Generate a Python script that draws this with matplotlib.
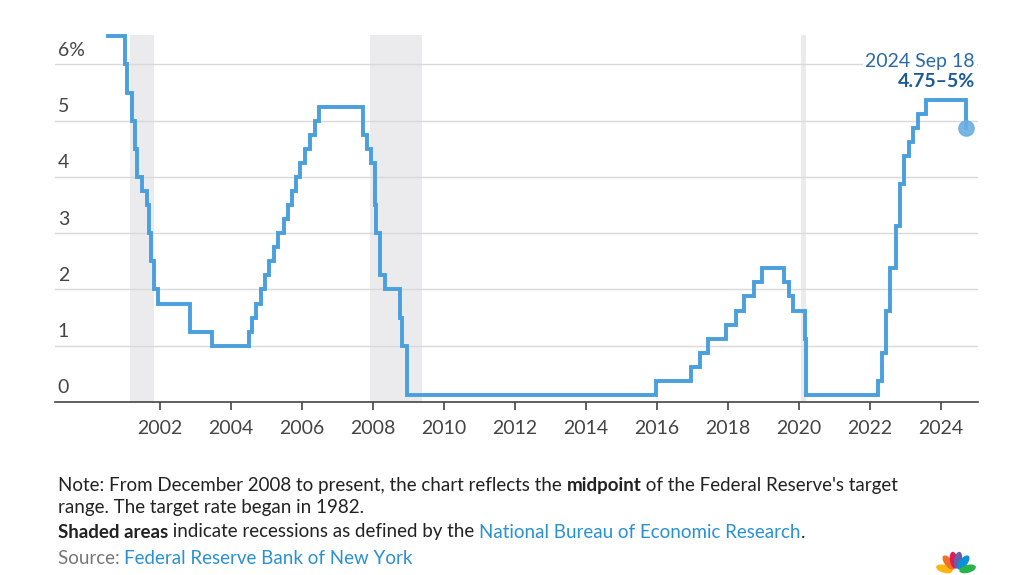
import matplotlib.pyplot as plt
import numpy as np
from matplotlib.patches import Ellipse

plt.rcParams['font.family'] = ['Lato', 'DejaVu Sans']

# fed funds target (midpoint after Dec 2008), decimal years
dates = [2000.55, 2001.01, 2001.08, 2001.21, 2001.30, 2001.37, 2001.49, 2001.64,
         2001.71, 2001.75, 2001.85, 2001.94, 2002.85, 2003.48, 2004.50, 2004.61,
         2004.72, 2004.86, 2004.95, 2005.09, 2005.22, 2005.34, 2005.49, 2005.61,
         2005.72, 2005.83, 2005.95, 2006.08, 2006.24, 2006.36, 2006.49, 2007.71,
         2007.83, 2007.94, 2008.06, 2008.08, 2008.21, 2008.33, 2008.77, 2008.82,
         2008.96, 2015.96, 2016.95, 2017.20, 2017.45, 2017.95, 2018.22, 2018.45,
         2018.73, 2018.97, 2019.58, 2019.71, 2019.83, 2020.17, 2020.20, 2022.21,
         2022.34, 2022.46, 2022.57, 2022.72, 2022.84, 2022.95, 2023.09, 2023.22,
         2023.34, 2023.57, 2024.71]
rates = [6.5, 6.0, 5.5, 5.0, 4.5, 4.0, 3.75, 3.5, 3.0, 2.5, 2.0, 1.75, 1.25, 1.0,
         1.25, 1.5, 1.75, 2.0, 2.25, 2.5, 2.75, 3.0, 3.25, 3.5, 3.75, 4.0, 4.25,
         4.5, 4.75, 5.0, 5.25, 4.75, 4.5, 4.25, 3.5, 3.0, 2.25, 2.0, 1.5, 1.0,
         0.125, 0.375, 0.625, 0.875, 1.125, 1.375, 1.625, 1.875, 2.125, 2.375,
         2.125, 1.875, 1.625, 1.125, 0.125, 0.375, 0.875, 1.625, 2.375, 3.125,
         3.875, 4.375, 4.625, 4.875, 5.125, 5.375, 4.875]
recessions = [(2001.17, 2001.84), (2007.92, 2009.38), (2020.05, 2020.20)]
year_ticks = list(range(2002, 2025, 2))
y_ticks = [0, 1, 2, 3, 4, 5, 6]

fig = plt.figure(figsize=(10.24, 5.75), dpi=100)
ax = fig.add_axes([0.0537, 0.3009, 0.9014, 0.638])

for a, b in recessions:
    ax.axvspan(a, b, color='#ebebee', lw=0, zorder=0)

for v in y_ticks[1:]:
    ax.axhline(v, color='#d9d9d9', lw=1, zorder=1)
for v in y_ticks:
    lab = f'{v}%' if v == 6 else str(v)
    ax.text(0.003, v + 0.1, lab, transform=ax.get_yaxis_transform(),
            fontsize=14, color='#444444', va='bottom', ha='left')

ax.step(dates, rates, where='post', color='#4a9fdd', lw=2.8, zorder=3,
        solid_joinstyle='miter', clip_on=False)
ax.plot(dates[-1], rates[-1], 'o', ms=11, color='#6aaee3', alpha=0.9,
        zorder=4, clip_on=False)

ax.text(2024.95, 6.06, '2024 Sep 18', fontsize=14, color='#2b6aa6',
        ha='right', va='center', zorder=5,
        bbox=dict(facecolor='white', edgecolor='none', pad=1.5))
ax.text(2024.95, 5.70, '4.75–5%', fontsize=14, color='#1a5a96',
        fontweight='bold', ha='right', va='center', zorder=5)

ax.set_xlim(1999.05, 2025.04)
ax.set_ylim(0, 6.52)
ax.set_xticks(year_ticks)
ax.set_xticklabels([str(y) for y in year_ticks], fontsize=14, color='#444444')
ax.set_yticks([])
ax.tick_params(axis='x', length=6, width=1.2, color='#444444', pad=7)
for s in ['top', 'right', 'left']:
    ax.spines[s].set_visible(False)
ax.spines['bottom'].set_color('#444444')
ax.spines['bottom'].set_linewidth(1.2)
ax.spines['bottom'].set_zorder(5)

# footnotes built from pieces
renderer = fig.canvas.get_renderer()
W = fig.get_figwidth() * fig.dpi


def chain(x, y, parts):
    for s, kw in parts:
        t = fig.text(x, y, s, fontsize=13.5, va='center', **kw)
        x = t.get_window_extent(renderer).x1 / W


dark = '#222222'
blue = '#2a90d2'
chain(0.0566, 1 - 485 / 575, [
    ('Note: From December 2008 to present, the chart reflects the ', dict(color=dark)),
    ('midpoint', dict(color=dark, fontweight='bold')),
    (" of the Federal Reserve's target", dict(color=dark))])
chain(0.0566, 1 - 508 / 575, [('range. The target rate began in 1982.', dict(color=dark))])
chain(0.0566, 1 - 532 / 575, [
    ('Shaded areas', dict(color=dark, fontweight='bold')),
    (' indicate recessions as defined by the ', dict(color=dark)),
    ('National Bureau of Economic Research', dict(color=blue)),
    ('.', dict(color=dark))])
chain(0.0566, 1 - 558 / 575, [
    ('Source: ', dict(color='#777777')),
    ('Federal Reserve Bank of New York', dict(color=blue))])
fig.text(0.0566, 1 - 584 / 575, 'Data as of Sept. 18, 2024', fontsize=13.5,
         color='#999999', va='center')

# small peacock logo, drawn in a pixel-scaled inset
lax = fig.add_axes([934 / 1024, 0, 44 / 1024, 28 / 575])
lax.set_xlim(0, 44)
lax.set_ylim(0, 28)
lax.axis('off')
for ang, col in zip([165, 128, 100, 80, 52, 15],
                    ['#fcb711', '#f37021', '#e0195a', '#6460aa', '#0a8fd8', '#2bb34b']):
    r = np.deg2rad(ang)
    cx, cy = 22 + 12 * np.cos(r), 3 + 12 * np.sin(r)
    lax.add_patch(Ellipse((cx, cy), 17, 8, angle=ang, color=col, lw=0))

fig.savefig('out.png', dpi=100)
